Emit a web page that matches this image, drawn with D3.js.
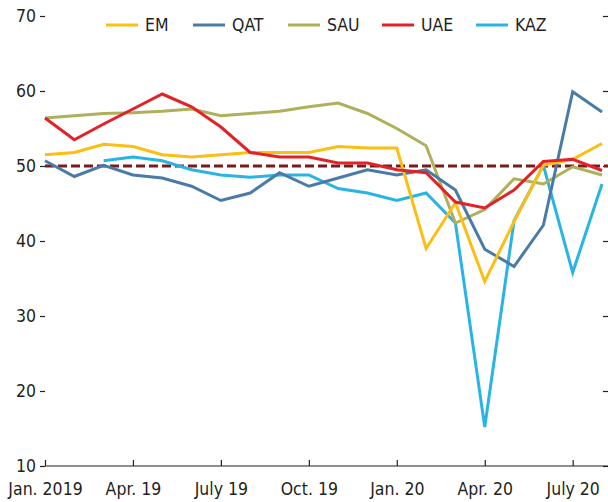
<!DOCTYPE html>
<html>
  <head>
    <meta charset="utf-8">
    <title>PMI chart</title>
    <script type="text/javascript" src="https://cdn.jsdelivr.net/npm/d3@7"></script>
    <style type='text/css'>
    body {
      margin: 0;
      background: #fff;
    }
    .axis text, .legend text {
      font-family: 'DejaVu Sans Condensed', 'Liberation Sans', sans-serif;
      font-stretch: condensed;
      font-size: 17.5px;
      fill: #231f20;
    }
    .axis line, .axis path {
      stroke: #231f20;
      stroke-width: 1.2;
    }
    .series {
      fill: none;
      stroke-width: 3;
      stroke-linejoin: miter;
    }
    </style>
  </head>
  <body>
    <script type="text/javascript">
      var w = 608;
      var h = 502;

      // monthly data, Jan. 2019 - Aug. 2020
      var months = ['2019-01','2019-02','2019-03','2019-04','2019-05','2019-06','2019-07','2019-08','2019-09','2019-10',
                    '2019-11','2019-12','2020-01','2020-02','2020-03','2020-04','2020-05','2020-06','2020-07','2020-08'];
      var tickIndex = [0, 3, 6, 9, 12, 15, 18];
      var tickLabels = ['Jan. 2019', 'Apr. 19', 'July 19', 'Oct. 19', 'Jan. 20', 'Apr. 20', 'July 20'];
      var yTicks = [10, 20, 30, 40, 50, 60, 70];
      var threshold = 50;

      var seriesNames = ['EM', 'QAT', 'SAU', 'UAE', 'KAZ'];
      var seriesColors = ['#fdbe14', '#4a7ba7', '#aeb05c', '#e32227', '#29b5e3'];

      var em  = [51.5, 51.8, 52.9, 52.6, 51.5, 51.2, 51.5, 51.8, 51.8, 51.8, 52.6, 52.4, 52.4, 39.0, 45.1, 34.6, 42.6, 50.1, 50.9, 53.0];
      var qat = [50.7, 48.6, 50.1, 48.8, 48.4, 47.3, 45.4, 46.4, 49.1, 47.3, 48.4, 49.5, 48.8, 49.5, 46.8, 38.9, 36.6, 42.1, 59.9, 57.2];
      var sau = [56.4, 56.7, 57.0, 57.1, 57.3, 57.6, 56.7, 57.0, 57.3, 57.9, 58.4, 57.0, 55.0, 52.7, 42.4, 44.2, 48.3, 47.6, 49.9, 48.8];
      var uae = [56.4, 53.5, 55.6, 57.6, 59.6, 57.9, 55.2, 51.8, 51.2, 51.2, 50.4, 50.4, 49.5, 49.1, 45.2, 44.4, 46.8, 50.6, 50.9, 49.4];
      var kaz = [null, null, 50.7, 51.2, 50.7, 49.5, 48.8, 48.5, 48.8, 48.8, 47.0, 46.4, 45.4, 46.4, 42.4, 15.2, 42.7, 50.1, 35.8, 47.6];

      var seriesValues = [em, qat, sau, uae, kaz];

      var xScale = d3.scaleLinear()
                      .domain([0, months.length - 1])
                      .range([45, 602]);

      var yScale = d3.scaleLinear()
                      .domain([10, 70])
                      .range([466, 16]);

      var svg = d3.select('body')
                  .append('svg')
                  .attr('width', w)
                  .attr('height', h);

      // left axis: labels + small ticks, no line
      var yAxis = d3.axisLeft(yScale)
                    .tickValues(yTicks)
                    .tickSize(5)
                    .tickPadding(4)
                    .tickFormat(d3.format('d'));

      var gy = svg.append('g')
          .attr('class', 'y axis')
          .attr('transform', 'translate(' + xScale.range()[0] + ',0)')
          .call(yAxis);
      gy.select('.domain').remove();

      // right side ticks
      var yAxisR = d3.axisLeft(yScale)
                    .tickValues(yTicks)
                    .tickSize(5)
                    .tickFormat('');
      var gr = svg.append('g')
          .attr('class', 'y axis right')
          .attr('transform', 'translate(' + w + ',0)')
          .call(yAxisR);
      gr.select('.domain').remove();

      // bottom axis, ticks pointing up
      var xAxis = d3.axisBottom(xScale)
                    .tickValues(tickIndex)
                    .tickSizeInner(-6)
                    .tickSizeOuter(0)
                    .tickFormat(function(d, i) { return tickLabels[i]; });

      var gx = svg.append('g')
          .attr('class', 'x axis')
          .attr('transform', 'translate(0,' + yScale(10) + ')')
          .call(xAxis);
      gx.select('.domain').remove();
      gx.selectAll('text').attr('y', 17);
      gx.append('line')
          .attr('x1', xScale.range()[0])
          .attr('x2', w)
          .attr('y1', 0)
          .attr('y2', 0);

      // 50 threshold
      svg.append('line')
          .attr('x1', xScale.range()[0])
          .attr('x2', w)
          .attr('y1', yScale(threshold))
          .attr('y2', yScale(threshold))
          .attr('stroke', '#7b1a1a')
          .attr('stroke-width', 2.8)
          .attr('stroke-dasharray', '9,4');

      var line = d3.line()
                   .defined(function(d) { return d != null; })
                   .x(function(d, i) { return xScale(i); })
                   .y(function(d) { return yScale(d); });

      // draw order: KAZ under, then others
      var order = [4, 2, 1, 0, 3];
      svg.selectAll('path.series')
        .data(order)
        .enter()
        .append('path')
        .attr('class', 'series')
        .attr('stroke', function(k) { return seriesColors[k]; })
        .attr('d', function(k) { return line(seriesValues[k]); });

      // legend
      var legendX = [106, 193, 288, 382, 476];
      var legend = svg.append('g').attr('class', 'legend');
      var items = legend.selectAll('g')
        .data(seriesNames)
        .enter()
        .append('g')
        .attr('transform', function(d, i) { return 'translate(' + legendX[i] + ',25)'; });
      items.append('line')
        .attr('x1', 0)
        .attr('x2', 32)
        .attr('stroke-width', 3)
        .attr('stroke', function(d, i) { return seriesColors[i]; });
      items.append('text')
        .attr('x', 39)
        .attr('dy', '0.35em')
        .text(function(d) { return d; });
    </script>
  </body>
</html>
